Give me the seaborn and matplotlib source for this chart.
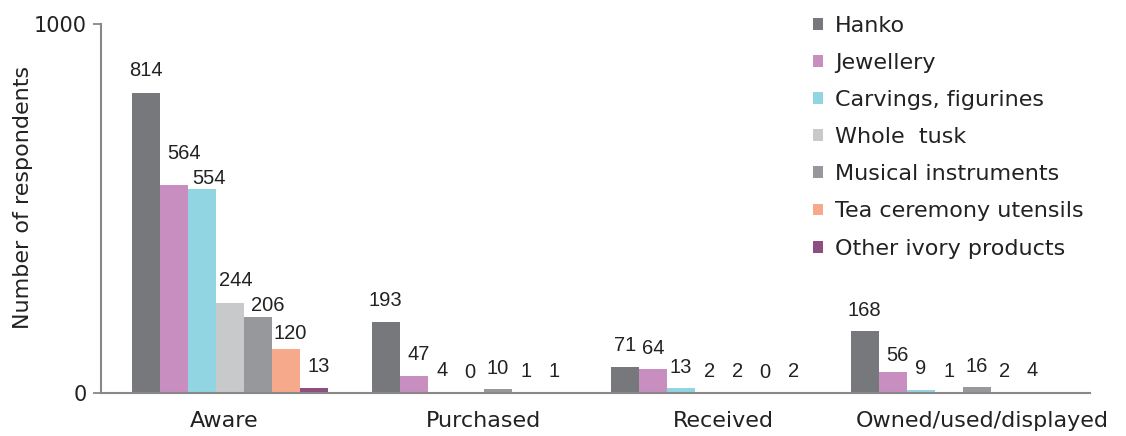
import matplotlib
matplotlib.use("Agg")
import matplotlib.pyplot as plt
import matplotlib.transforms as mtransforms
import seaborn as sns
import pandas as pd

categories = ["Aware", "Purchased", "Received", "Owned/used/displayed"]
series = ["Hanko", "Jewellery", "Carvings, figurines", "Whole  tusk",
          "Musical instruments", "Tea ceremony utensils", "Other ivory products"]
hanko = [814, 193, 71, 168]
jewellery = [564, 47, 64, 56]
carvings = [554, 4, 13, 9]
whole_tusk = [244, 0, 2, 1]
musical = [206, 10, 2, 16]
tea = [120, 1, 0, 2]
other = [13, 1, 2, 4]
colors = ["#77787c", "#c78ebf", "#92d5e2", "#c8c9cb", "#97989c", "#f7a98c", "#8e4f80"]

values = [hanko, jewellery, carvings, whole_tusk, musical, tea, other]
rows = []
for s, vals in zip(series, values):
    for c, v in zip(categories, vals):
        rows.append({"category": c, "series": s, "value": v})
df = pd.DataFrame(rows)

# label nudges in pixels (dx, extra dy) for the crowded "Aware" group
label_nudge = {
    (0, 0): (0, 1.5), (1, 0): (10, 10), (2, 0): (7, -10.5), (3, 0): (6, 1.5),
    (4, 0): (9.5, -9.5), (5, 0): (4, -5.5), (6, 0): (5, 0.5),
    (1, 1): (5, 0), (1, 3): (5, -4),
}

sns.set_theme(style="white")
plt.rcParams['font.family'] = ['DejaVu Sans']

fig = plt.figure(figsize=(11.26, 4.36), dpi=100)
ax = fig.add_axes([0.0897, 0.0986, 0.968 - 0.0897, 0.945 - 0.0986])

sns.barplot(data=df, x="category", y="value", hue="series", order=categories,
            hue_order=series, palette=colors, width=0.818, linewidth=0,
            saturation=1, ax=ax, legend=True)

base_gap_px = 11.5
for si, cont in enumerate(ax.containers):
    for ci, (bar, v) in enumerate(zip(cont.patches, cont.datavalues)):
        dx, dy = label_nudge.get((si, ci), (0, 0))
        ax.annotate(f"{int(v)}", xy=(bar.get_x() + bar.get_width() / 2, bar.get_height()),
                    xytext=(dx * 0.72, (base_gap_px + dy) * 0.72), textcoords="offset points",
                    ha="center", va="bottom", fontsize=14.5, color="#222222",
                    family="Liberation Sans")

ax.set_ylim(0, 1000)
ax.set_xlim(-0.539, 3.59)
ax.set_yticks([0, 1000])
ax.set_yticklabels(["0", "1000"], fontsize=15, color="#222222")
ax.tick_params(axis="y", length=6, width=1.3, color="#888888", direction="out", left=True, pad=4)
ax.tick_params(axis="x", length=0, pad=13, labelsize=16, labelcolor="#222222")
label_dx = [-6, 14, 14, 34]
for lab, dx in zip(ax.get_xticklabels(), label_dx):
    lab.set_transform(lab.get_transform() + mtransforms.ScaledTranslation(dx / 100, 0, fig.dpi_scale_trans))
ax.set_xlabel("")
ax.set_ylabel("Number of respondents", fontsize=16, color="#222222")
ax.yaxis.set_label_coords(-0.069, 0.53)
for sp in ["top", "right"]:
    ax.spines[sp].set_visible(False)
for sp in ["left", "bottom"]:
    ax.spines[sp].set_color("#888888")
    ax.spines[sp].set_linewidth(1.5)

leg = ax.legend(loc="upper left", bbox_to_anchor=(804 / 1126, 1 - 7 / 436),
                bbox_transform=fig.transFigure, frameon=False, fontsize=16,
                handlelength=0.45, handleheight=0.45, handletextpad=0.54,
                labelspacing=0.77, borderaxespad=0)
for t in leg.get_texts():
    t.set_color("#222222")

fig.savefig("out.png", dpi=100)
